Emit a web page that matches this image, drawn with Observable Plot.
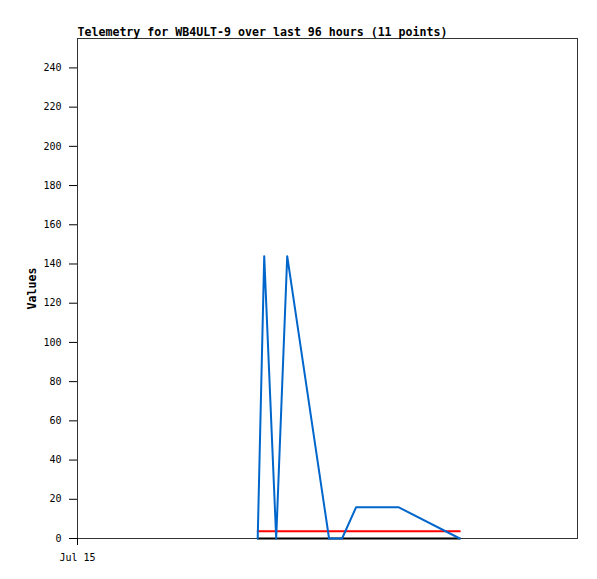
<!DOCTYPE html>
<html>
<head>
<meta charset="utf-8">
<script src="https://cdn.jsdelivr.net/npm/d3@7"></script>
<script src="https://cdn.jsdelivr.net/npm/@observablehq/plot@0.6"></script>
<style>
  html, body { margin: 0; padding: 0; background: #fff; }
  svg { display: block; }
</style>
</head>
<body>
<div id="chart"></div>
<script>
const title = "Telemetry for WB4ULT-9 over last 96 hours (11 points)";
const yLabel = "Values";
const xDomain = ["2023-07-15T00:00Z", "2023-07-19T00:00Z"];
const xTickDates = ["2023-07-15T00:00Z"];
const xTickLabels = ["Jul 15"];
const yTicks = [0, 20, 40, 60, 80, 100, 120, 140, 160, 180, 200, 220, 240];
const times = [
  "2023-07-16T10:36Z", "2023-07-16T11:51Z", "2023-07-16T14:09Z",
  "2023-07-16T16:16Z", "2023-07-17T00:18Z", "2023-07-17T02:48Z",
  "2023-07-17T05:30Z", "2023-07-17T13:36Z", "2023-07-18T01:24Z"
];
const blueValues = [0, 144, 0, 144, 0, 0, 16, 16, 0];
const redValues  = [3.7, 3.7, 3.7, 3.7, 3.7, 3.7, 3.7, 3.7, 3.7];
const blackValues = [0, 0, 0, 0, 0, 0, 0, 0, 0];

const rows = (vals) => times.map((t, i) => ({t: new Date(t), v: vals[i]}));
const blue = rows(blueValues), red = rows(redValues), black = rows(blackValues);
const tickDates = xTickDates.map(d => new Date(d));

const mono = "'DejaVu Sans Mono', 'Liberation Mono', monospace";

const chart = Plot.plot({
  width: 597,
  height: 579,
  marginLeft: 77,
  marginRight: 20,
  marginTop: 38,
  marginBottom: 41,
  style: {fontFamily: mono, fontSize: "10px", color: "#000", background: "#fff"},
  x: {type: "utc", domain: xDomain.map(d => new Date(d))},
  y: {domain: [0, 255]},
  marks: [
    Plot.frame({stroke: "#333", strokeWidth: 1}),
    Plot.axisY({ticks: yTicks, tickSize: 8, tickPadding: 8, label: null, stroke: "#000", fontSize: 10}),
    Plot.axisX({ticks: tickDates, tickFormat: (d, i) => xTickLabels[i], tickSize: 7, tickPadding: 8, label: null, stroke: "#000", fontSize: 10}),
    Plot.line(black, {x: "t", y: "v", stroke: "#000", strokeWidth: 2, curve: "linear"}),
    Plot.line(red, {x: "t", y: "v", stroke: "#ff0000", strokeWidth: 2}),
    Plot.line(blue, {x: "t", y: "v", stroke: "#0066cc", strokeWidth: 2}),
    Plot.text([title], {frameAnchor: "top-left", text: d => d, textAnchor: "start", lineAnchor: "bottom", dy: -3, fontWeight: "bold", fontSize: 11.6}),
    Plot.text([yLabel], {frameAnchor: "left", text: d => d, rotate: -90, dx: -45, textAnchor: "middle", lineAnchor: "middle", fontWeight: "bold", fontSize: 11.6})
  ]
});
document.getElementById("chart").append(chart);
</script>
</body>
</html>
